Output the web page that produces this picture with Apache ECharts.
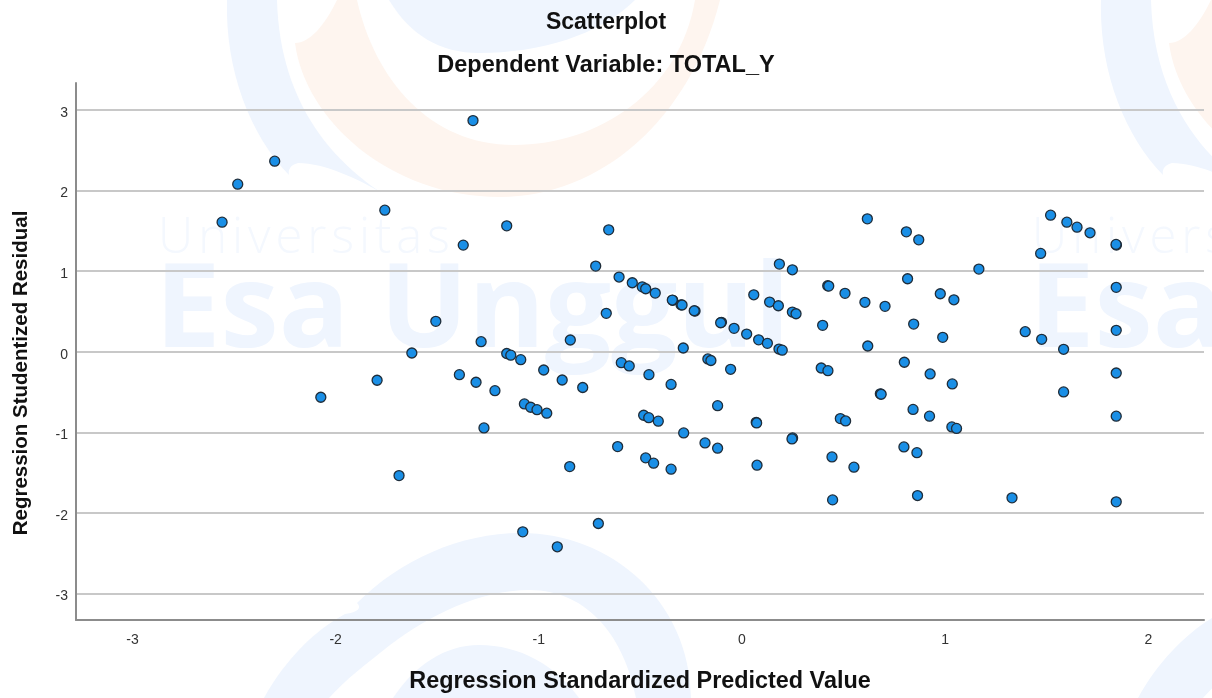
<!DOCTYPE html>
<html>
<head>
<meta charset="utf-8">
<title>Scatterplot</title>
<style>
  html, body { margin: 0; padding: 0; background: #fff; }
  #chart { width: 1212px; height: 698px; }
</style>
<script src="https://cdn.jsdelivr.net/npm/echarts@6/dist/echarts.min.js"></script>
</head>
<body>
<div id="chart"></div>
<script>
const chartTitle = 'Scatterplot';
const chartSubtitle = 'Dependent Variable: TOTAL_Y';
const xAxisName = 'Regression Standardized Predicted Value';
const yAxisName = 'Regression Studentized Residual';

const xTicks = [-3, -2, -1, 0, 1, 2];
const yTicks = [-3, -2, -1, 0, 1, 2, 3];

// same order in both arrays
const predicted = [
  -2.559, -2.482, -2.300, -1.324, -1.758, -1.372, -1.158, -1.507, -1.284, -1.625,
  -1.158, -1.138, -1.089, -2.073, -1.796, -1.688, -1.391, -1.309, -1.216, -0.976,
  -0.885, -0.784, -0.845, -0.594, -0.555, -1.071, -1.040, -1.009, -0.961, -1.270,
  -0.612, -0.848, -0.707, -1.079, -0.909, -0.458, -0.349, -0.289, -0.168, -0.153,
  -0.056, -0.120, -0.484, -0.459, -0.412, -0.287, -0.182, -0.120, -0.474, -0.435,
  -0.349, 0.070, 0.072, 0.074, 0.249, 0.246, 0.390, 0.423, 0.619, 0.799,
  0.926, 1.035, 0.681, 0.685, 0.484, 0.510, 0.842, 0.923, 1.033, 1.056,
  0.443, 0.551, 0.797, 0.861, 0.446, 0.864, 1.329, 1.842, 1.519, 1.599,
  1.649, 1.713, 1.470, 1.843, 1.841, 1.842, 1.842, 1.394, 1.475, 1.583,
  1.842, 1.583, 1.842, 1.166, 0.809, 0.870, 0.617, 0.815, 0.976, 1.043,
  0.605, 0.704, 0.845, 0.988, 0.422, 0.427, 0.507, 0.397, 0.184, 0.248,
  0.058, 0.136, 0.179, 0.248, 0.266, -0.101, -0.105, -0.039, 0.023, 0.082,
  0.125, 0.182, 0.198, -0.656, -0.720, -0.605, -0.540, -0.491, -0.474, -0.427,
  -0.341, -0.343, -0.300, -0.295, -0.231, -0.235, -0.668
];

const residuals = [
  1.607, 2.078, 2.363, 2.867, 1.756, 1.322, 1.561, 0.377, 0.124, -0.016,
  -0.022, -0.043, -0.099, -0.565, -0.354, -1.537, -0.285, -0.379, -0.483, -0.227,
  -0.351, -0.444, 0.145, -0.136, -0.177, -0.648, -0.689, -0.719, -0.763, -0.945,
  -1.177, -1.425, -2.131, -2.234, -2.420, -0.285, -0.406, 0.046, -0.090, -0.109,
  -0.218, -0.669, -0.788, -0.818, -0.862, -1.007, -1.131, -1.197, -1.317, -1.383,
  -1.457, -0.876, -0.884, -1.408, -1.069, -1.082, -0.202, -0.235, 0.071, -0.131,
  -0.276, -0.400, -0.522, -0.528, -0.830, -0.859, -0.716, -0.800, -0.933, -0.952,
  -1.305, -1.432, -1.181, -1.252, -1.838, -1.784, -1.813, -1.862, 1.694, 1.607,
  1.545, 1.475, 1.219, 1.323, 1.331, 0.798, 0.265, 0.248, 0.154, 0.030,
  -0.264, -0.499, -0.800, 1.025, 1.487, 1.388, 1.648, 0.905, 0.719, 0.644,
  0.613, 0.563, 0.343, 0.178, 0.818, 0.814, 0.724, 0.327, 1.087, 1.016,
  0.706, 0.616, 0.570, 0.492, 0.471, 0.364, 0.359, 0.290, 0.219, 0.147,
  0.104, 0.033, 0.019, 1.512, 1.062, 0.926, 0.855, 0.805, 0.781, 0.727,
  0.637, 0.641, 0.582, 0.579, 0.504, 0.508, 0.476
];

// background logo of the source document, drawn behind the plot
const logoBlue = '#eff5fe';
const logoOrange = '#fef5ef';
const logoShift = 874;

const logoPaths = [
  { color: logoOrange, d: 'M337,0 C325,25 310,43 295,43 C305,120 390,197 500,197 C600,197 690,120 720,0 L695,0 C680,90 600,145 514,145 C430,145 375,80 357,0 Z' },
  { color: logoBlue, d: 'M389,0 C410,35 440,53 479,53 C540,53 600,35 635,0 Z' },
  { color: logoBlue, d: 'M227,0 C225,70 250,135 289,175 C288,170 290,165 298,163 C325,163 360,180 382,193 C340,165 280,110 277,0 Z' },
  { color: logoBlue, d: 'M264,698 C285,660 315,630 345,614 C358,612 362,608 357,603 C400,560 460,533 521,533 C610,533 690,600 691,698 L636,698 C625,640 590,590 529,590 C480,590 430,615 390,645 C365,665 345,680 329,698 Z' },
  { color: logoBlue, d: 'M393,698 C415,665 445,645 479,645 C520,645 555,665 579,698 Z' }
];

// the graphic component has no path type, so each logo piece gets its own shape
logoPaths.forEach((p, i) => {
  echarts.graphic.registerShape('logoPiece' + i, echarts.graphic.extendPath(p.d, {}));
});

function buildLogo(shift) {
  const items = logoPaths.map((p, i) => ({
    type: 'logoPiece' + i,
    x: shift,
    z: -10,
    style: { fill: p.color }
  }));
  items.push({
    type: 'text',
    x: 158 + shift,
    y: 215,
    z: -10,
    style: {
      text: 'Universitas'.split('').join('\u200a'),
      fill: '#f4f8fe',
      font: '300 49px "Open Sans"'
    }
  });
  items.push({
    type: 'text',
    x: 155 + shift,
    y: 255,
    z: -10,
    style: {
      text: 'Esa Unggul',
      fill: logoBlue,
      font: 'bold 117px "Open Sans"'
    }
  });
  return items;
}

const chart = echarts.init(document.getElementById('chart'));

chart.setOption({
  backgroundColor: '#ffffff',
  animation: false,
  textStyle: { fontFamily: '"Liberation Sans"' },
  graphic: { elements: buildLogo(0).concat(buildLogo(logoShift)) },
  title: [
    {
      text: chartTitle,
      left: 601,
      top: 6,
      textAlign: 'center',
      textStyle: { fontSize: 23, fontWeight: 'bold', color: '#111' }
    },
    {
      text: chartSubtitle,
      left: 601,
      top: 49,
      textAlign: 'center',
      textStyle: { fontSize: 23.5, fontWeight: 'bold', color: '#111' }
    }
  ],
  grid: { left: 76, right: 8, top: 83, bottom: 78 },
  xAxis: {
    type: 'value',
    min: -3.278,
    max: 2.274,
    name: xAxisName,
    nameLocation: 'middle',
    nameGap: 50,
    nameTextStyle: { fontSize: 23.4, fontWeight: 'bold', color: '#111' },
    axisLine: { onZero: false, lineStyle: { color: '#8c8c8c', width: 2 } },
    axisTick: { show: false, customValues: xTicks },
    axisLabel: { customValues: xTicks, fontSize: 14, color: '#333', margin: 13 },
    splitLine: { show: false }
  },
  yAxis: {
    type: 'value',
    min: -3.328,
    max: 3.333,
    name: yAxisName,
    nameLocation: 'middle',
    nameGap: 44,
    nameTextStyle: { fontSize: 20.5, fontWeight: 'bold', color: '#111', padding: [0, 43, 0, 0] },
    axisLine: { onZero: false, lineStyle: { color: '#8c8c8c', width: 2 } },
    axisTick: { show: false, customValues: yTicks },
    axisLabel: {
      customValues: yTicks,
      margin: 8,
      formatter: '{v|{value}}',
      rich: { v: { fontSize: 14, color: '#333', padding: [6, 0, 0, 0] } }
    },
    splitLine: { show: true, customValues: yTicks, lineStyle: { color: '#c8c8c8', width: 2 } }
  },
  series: [{
    type: 'scatter',
    data: predicted.map((x, i) => [x, residuals[i]]),
    symbolSize: 10,
    itemStyle: { color: '#1a8fe6', borderColor: '#1f2d3a', borderWidth: 1.3, opacity: 1 }
  }]
});
</script>
</body>
</html>
